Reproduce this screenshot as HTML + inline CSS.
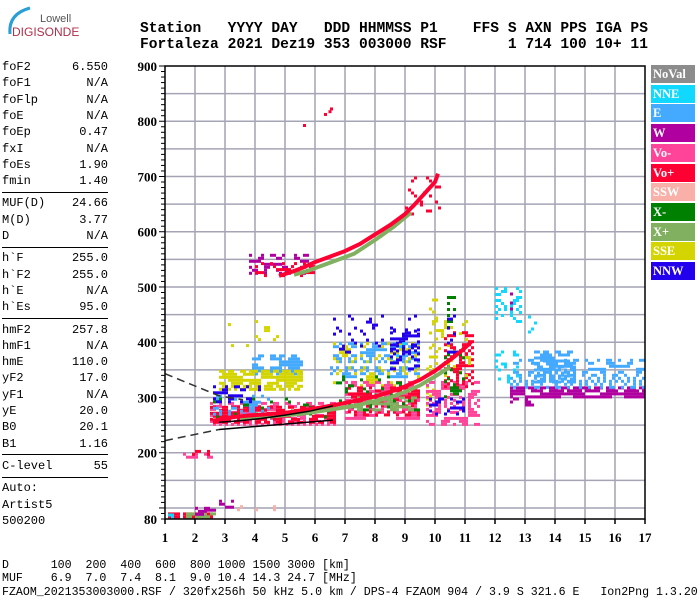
<!DOCTYPE html>
<html><head><meta charset="utf-8">
<style>
html,body{margin:0;padding:0;background:#fff;}
#root{position:relative;width:700px;height:600px;overflow:hidden;background:#fff;font-family:"Liberation Mono",monospace;}
.hdr{position:absolute;left:140px;font:bold 14.6px "Liberation Mono",monospace;white-space:pre;color:#000;line-height:16px;}
.lp{position:absolute;left:2px;width:106px;font:12px "Liberation Mono",monospace;color:#000;height:14px;line-height:14px;}
.lp span{position:absolute;right:0;top:0;}
.sep{position:absolute;left:2px;width:106px;height:0;border-top:1.5px solid #000;}
.bt{position:absolute;left:2px;font:11.6px "Liberation Mono",monospace;white-space:pre;color:#000;line-height:13px;}
.lg{position:absolute;left:651px;width:44px;height:18px;color:#fff;font:bold 12.5px "Liberation Serif",serif;line-height:18px;padding-left:2px;box-sizing:border-box;}
</style></head><body>
<div id="root">
<svg width="90" height="40" style="position:absolute;left:0;top:0">
<path d="M10 34 Q8 14 30 8" stroke="#2a9fd6" stroke-width="3" fill="none"/>
<text x="40" y="22" font-family="Liberation Sans,sans-serif" font-size="11" fill="#555">Lowell</text>
<text x="12" y="36" font-family="Liberation Sans,sans-serif" font-size="12" fill="#b0304a">DIGISONDE</text>
</svg>
<div class="hdr" style="top:21px">Station   YYYY DAY   DDD HHMMSS P1    FFS S AXN PPS IGA PS</div>
<div class="hdr" style="top:37px">Fortaleza 2021 Dez19 353 003000 RSF       1 714 100 10+ 11</div>

<div id="leftpanel"></div>

<svg id="chart" width="700" height="600" style="position:absolute;left:0;top:0"></svg>

<div id="legend"></div>

<div class="bt" style="top:559px">D      100  200  400  600  800 1000 1500 3000 [km]</div>
<div class="bt" style="top:572px">MUF    6.9  7.0  7.4  8.1  9.0 10.4 14.3 24.7 [MHz]</div>
<div class="bt" style="top:586px">FZAOM_2021353003000.RSF / 320fx256h 50 kHz 5.0 km / DPS-4 FZAOM 904 / 3.9 S 321.6 E   Ion2Png 1.3.20</div>
</div>
<script>
// ---- data ----
const paramNames = ["foF2","foF1","foFlp","foE","foEp","fxI","foEs","fmin","|","MUF(D)","M(D)","D","|","h`F","h`F2","h`E","h`Es","|","hmF2","hmF1","hmE","yF2","yF1","yE","B0","B1","|","C-level","|","Auto:","Artist5","500200"];
const paramValues = ["6.550","N/A","N/A","N/A","0.47","N/A","1.90","1.40","","24.66","3.77","N/A","","255.0","255.0","N/A","95.0","","257.8","N/A","110.0","17.0","N/A","20.0","20.1","1.16","","55","","","",""];
const legendNames = ["NoVal","NNE","E","W","Vo-","Vo+","SSW","X-","X+","SSE","NNW"];
const legendColors = ["#8c8c8c","#10d8ff","#44aaff","#b000a0","#ff4499","#ff0033","#f8b0a8","#008000","#80b060","#d4d400","#2200ee"];
const xTicks = [1,2,3,4,5,6,7,8,9,10,11,12,13,14,15,16,17];
const yTickLabels = [80,200,300,400,500,600,700,800,900];
// echo patches: [fStart, fEnd, hLow, hHigh, colorIndex, density]
const patches = [
 [1.1,2.6,82,92,5,0.8],[1.1,1.3,82,90,1,0.8],[1.7,2.7,82,92,8,0.8],[2.0,2.5,90,102,3,0.5],[2.3,3.3,95,115,3,0.2],[3.2,5.0,95,105,6,0.15],
 [1.6,2.6,190,200,4,0.6],[1.9,2.5,195,205,5,0.4],
 [3.9,5.6,345,378,2,0.55],[2.8,5.6,315,350,9,0.7],[3.0,5.0,395,440,9,0.08],
 [2.5,6.7,250,292,4,0.5],[2.5,6.7,255,285,5,0.55],[2.5,4.5,268,305,2,0.3],[2.6,4.2,290,322,10,0.3],[2.6,6.5,258,300,7,0.08],
 [6.5,9.5,340,400,2,0.35],[6.5,9.5,320,400,9,0.2],[6.5,9.5,380,450,10,0.12],[7.0,9.5,260,330,4,0.5],[7.0,9.5,268,320,5,0.4],
 [7.2,9.5,280,302,8,0.5],[6.5,9.5,280,340,7,0.1],[8.5,9.5,350,425,10,0.35],[8.6,9.3,360,400,1,0.1],
 [9.7,10.1,280,490,9,0.18],[9.7,11.5,250,330,4,0.4],[10.3,11.3,320,420,5,0.4],[9.8,11.2,340,440,9,0.15],[10.2,11.0,300,380,7,0.2],
 [9.8,11.0,270,300,10,0.3],[10.4,10.7,420,500,7,0.15],[10.3,10.8,380,450,10,0.2],
 [12.5,17.0,300,320,3,0.75],[12.5,13.3,285,300,3,0.4],[12.5,17.0,320,370,2,0.35],[13.3,14.7,330,385,2,0.55],[12.0,12.8,330,385,1,0.25],
 [12.0,12.9,440,500,1,0.3],[12.4,12.6,460,490,3,0.4],[13.0,13.5,410,470,1,0.15],
 [3.8,5.8,525,560,3,0.35],[4.0,6.0,518,545,5,0.25],[9.0,10.2,630,700,5,0.15]
];
// O-mode F trace
const oTraceF = [2.6,3.0,3.5,4.0,4.5,5.0,5.5,6.0,6.5,7.0,7.5,8.0,8.5,9.0,9.5,10.0,10.3,10.6,10.9,11.2];
const oTraceH = [258,262,266,268,270,272,276,280,285,290,296,302,310,320,332,348,360,372,385,400];
// X-mode F trace
const xTraceF = [3.5,4.0,4.5,5.0,5.5,6.0,6.5,7.0,7.5,8.0,8.5,9.0,9.5,10.0,10.5];
const xTraceH = [262,264,266,268,270,274,278,282,287,293,300,310,322,338,355];
// second hop
const hopF = [4.8,5.2,5.6,6.0,6.5,7.0,7.5,8.0,8.5,9.0,9.3,10.0,10.1];
const hopH = [520,527,535,545,555,565,578,595,612,632,648,690,705];
const hopXF = [5.3,5.8,6.3,6.8,7.3,8.0,8.6,9.2];
const hopXH = [522,530,540,550,560,585,608,635];
// profile (black) and dashed bounds
const profF = [2.8,3.5,4.2,5.0,5.8,6.6];
const profH = [255,258,262,268,275,285];
const upperDashF = [1.0,2.8,3.6];
const upperDashH = [343,303,296];
const lowerF = [1.0,2.8,6.6];
const lowerH = [222,242,259];
const isolatedF = [6.3,6.5,5.6,6.45];
const isolatedH = [815,825,795,820];

// ---- axes ----
const X0=165,X1=645,Y0=519,Y1=66;
function xs(f){return X0+(f-1)*(X1-X0)/16;}
function ys(h){return Y0-(h-80)*(Y0-Y1)/820;}

const NS="http://www.w3.org/2000/svg";
const svg=document.getElementById('chart');
function mk(tag,attrs,parent){const e=document.createElementNS(NS,tag);for(const k in attrs)e.setAttribute(k,attrs[k]);(parent||svg).appendChild(e);return e;}

// grid
const grid=mk('g',{});


for(let f=2;f<=16;f++){const l=mk('line',{x1:xs(f),x2:xs(f),y1:Y1,y2:Y0,stroke:'#a4a4b4','stroke-width':1.5},grid);

}
for(let h=100;h<900;h+=50){const l=mk('line',{x1:X0,x2:X1,y1:ys(h),y2:ys(h),stroke:'#a4a4b4','stroke-width':1.5},grid);

}

// patches
const echoes=mk('g',{});


patches.forEach((p,k)=>{
  const [f0,f1,h0,h1,ci,d]=p;
  const xa=xs(f0),xb=xs(f1),ya=ys(h1),yb=ys(h0);
  let i=0;
  for(let x=xa;x<xb;x+=3,i++){let j=0;
    for(let y=ya;y<yb;y+=3,j++){
      if(((i*73+j*151+k*37+i*j*11)%100)<d*100){
        const r=mk('rect',{x:x.toFixed(1),y:y.toFixed(1),width:3,height:3,fill:legendColors[ci]},echoes);
        
        
      }
    }
  }
});
function trace(F,H,color,w,name,dash){
  const pts=F.map((f,i)=>xs(f).toFixed(1)+','+ys(H[i]).toFixed(1)).join(' ');
  const a={points:pts,fill:'none',stroke:color,'stroke-width':w,'stroke-linejoin':'round'};
  if(dash)a['stroke-dasharray']=dash;
  const e=mk('polyline',a);
  
  
}
trace(xTraceF,xTraceH,'#80b060',4,'x-trace');
trace(oTraceF,oTraceH,'#ff0033',4,'o-trace');
trace(hopXF,hopXH,'#80b060',4,'second-hop-x-trace');
trace(hopF,hopH,'#ff0033',4,'second-hop-trace');
trace(profF,profH,'#000',1.5,'profile-line');
trace(upperDashF,upperDashH,'#333',1.5,'upper-bound-dashed','8,5');
trace(lowerF.slice(0,2),lowerH.slice(0,2),'#333',1.5,'lower-bound-dashed','8,5');
trace(lowerF.slice(1),lowerH.slice(1),'#000',1.5,'lower-bound-solid');
isolatedF.forEach((f,i)=>{const r=mk('rect',{x:xs(f),y:ys(isolatedH[i]),width:3,height:3,fill:'#ff0033'});

});

// frame
const fr=mk('rect',{x:X0,y:Y1,width:X1-X0,height:Y0-Y1,fill:'none',stroke:'#000','stroke-width':1.5});


// x ticks
xTicks.forEach(f=>{
  mk('line',{x1:xs(f),x2:xs(f),y1:Y0,y2:Y0+5,stroke:'#000','stroke-width':1.5});
  const t=mk('text',{x:xs(f),y:Y0+23,'text-anchor':'middle','font-family':'Liberation Serif,serif','font-weight':'bold','font-size':13});
  t.textContent=f;
  
  
});
// y ticks
for(let h=80;h<=900;h+=10){
  const major=(h%100===0);
  mk('line',{x1:X0-(major?6:4),x2:X0,y1:ys(h),y2:ys(h),stroke:'#000','stroke-width':1});
}
yTickLabels.forEach(h=>{
  const t=mk('text',{x:X0-8,y:ys(h)+5,'text-anchor':'end','font-family':'Liberation Serif,serif','font-weight':'bold','font-size':13});
  t.textContent=h;
  
  
});

// left panel
const lp=document.getElementById('leftpanel');
let y=60;
paramNames.forEach((n,i)=>{
  if(n==='|'){const s=document.createElement('div');s.className='sep';s.style.top=(y+1.5)+'px';
    
    
    lp.appendChild(s);y+=6;return;}
  const d=document.createElement('div');d.className='lp';d.style.top=y+'px';
  d.innerHTML=n+'<span>'+paramValues[i]+'</span>';
  
  
  lp.appendChild(d);y+=16.3;
});

// legend
const lg=document.getElementById('legend');
legendNames.forEach((n,i)=>{
  const d=document.createElement('div');d.className='lg';
  d.style.top=(65+i*19.7)+'px';d.style.background=legendColors[i];d.textContent=n;
  
  
  lg.appendChild(d);
});
</script>
</body></html>
